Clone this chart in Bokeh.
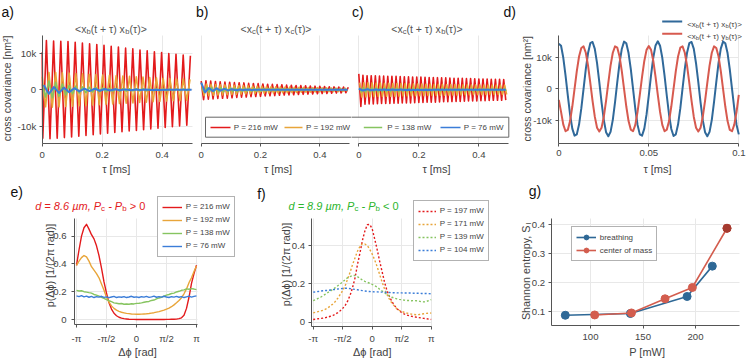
import numpy as np
from math import pi, cos, sin
from bokeh.plotting import figure
from bokeh.layouts import row, column
from bokeh.models import (Label, BoxAnnotation, Legend, LegendItem, FixedTicker,
                          CustomJSTickFormatter, Range1d)
from bokeh.embed import file_html
from bokeh.resources import INLINE

FONT = "Liberation Sans"

# ------------------------------------------------------------------ data
# panels a-c: cross covariances (1e3 nm^2), successive extrema of the oscillation
a_red = [10.4, -13.4, 13.6, -13.5, 13.5, -13.4, 13.4, -13.2, 13.3, -13.0, 13.1, -12.8, 12.9,
         -12.6, 12.7, -12.4, 12.5, -12.2, 12.3, -12.0, 12.0, -11.8, 11.8, -11.6, 11.5, -11.4,
         11.3, -11.2, 11.0, -11.0, 10.8, -10.8, 10.5, -10.6, 10.3, -10.4, 10.0, -10.2, 9.8,
         -10.0, 9.6, -9.8, 9.4]
a_orange = [3.6, -4.7, 4.8, -4.8, 4.8, -4.7, 4.7, -4.6, 4.6, -4.5, 4.5, -4.4, 4.4, -4.3, 4.3,
            -4.2, 4.2, -4.1, 4.1, -4.0, 4.0, -3.9, 3.9, -3.8, 3.8, -3.7, 3.7, -3.6, 3.6, -3.5,
            3.5, -3.4, 3.4, -3.3, 3.3, -3.2, 3.2, -3.1, 3.1, -3.0, 3.0, -3.0, 3.0, -2.9, 2.9]
a_green = [1.5, -2.0, 2.4, -2.2, 2.0, -1.8, 1.6, -1.4, 1.2, -1.1, 1.0, -0.9, 0.8, -0.8, 0.7,
           -0.6, 0.6, -0.5, 0.5, -0.5, 0.4, -0.4, 0.4, -0.4, 0.35, -0.35, 0.3, -0.3, 0.3, -0.3,
           0.3, -0.3, 0.25, -0.25, 0.25, -0.25, 0.25, -0.25, 0.2, -0.2, 0.2, -0.2, 0.2, -0.2, 0.2]
a_blue = [1.3, -1.1, 0.75, -0.85, 0.6, -0.65, 0.45, -0.45, 0.35, -0.35, 0.3, -0.25, 0.22, -0.2,
          0.16, -0.14, 0.12, -0.1, 0.08, -0.07, 0.06, -0.05, 0.04, -0.03, 0.03, -0.02, 0.02,
          -0.01, 0.01, 0.0]
a_half = {"red": 0.012, "orange": 0.0112, "green": 0.0112, "blue": 0.017}

b_red = [2.4, -2.7, 2.5, -2.6, 2.4, -2.5, 2.3, -2.4, 2.2, -2.35, 2.15, -2.3, 2.1, -2.2, 2.0,
         -2.1, 1.95, -2.05, 1.9, -2.0, 1.8, -1.9, 1.75, -1.85, 1.7, -1.8, 1.6, -1.7, 1.55, -1.65,
         1.5, -1.6, 1.45, -1.5, 1.4, -1.45, 1.3, -1.4, 1.25, -1.35, 1.2, -1.3, 1.15, -1.25, 1.1,
         -1.2, 1.05, -1.15, 1.0, -1.1, 0.95, -1.05, 0.9, -1.0, 0.85, -0.95, 0.8, -0.9, 0.78,
         -0.85, 0.75, -0.8, 0.7]
b_orange = [1.4, -1.6, 1.6, -1.6, 1.5, -1.5, 1.45, -1.45, 1.4, -1.4, 1.35, -1.35, 1.3, -1.3,
            1.25, -1.25, 1.2, -1.2, 1.15, -1.15, 1.1, -1.1, 1.05, -1.05, 1.0, -1.0, 0.95, -0.95,
            0.9, -0.9, 0.88, -0.88, 0.85, -0.85, 0.8, -0.8, 0.78, -0.78, 0.75, -0.75, 0.7, -0.7,
            0.68, -0.68, 0.65, -0.65, 0.62, -0.62, 0.6, -0.6, 0.58, -0.58, 0.55, -0.55, 0.52,
            -0.52, 0.5, -0.5, 0.48, -0.48, 0.45, -0.45, 0.42, -0.42]
b_green = [0.6, -0.7, 0.7, -0.65, 0.65, -0.6, 0.6, -0.58, 0.58, -0.55, 0.55, -0.52, 0.52, -0.5,
           0.5, -0.48, 0.48, -0.45, 0.45, -0.43, 0.43, -0.4, 0.4, -0.38, 0.38, -0.36, 0.36,
           -0.35, 0.35, -0.33, 0.33, -0.32, 0.32, -0.3, 0.3, -0.29, 0.29, -0.28, 0.28, -0.27,
           0.27, -0.26, 0.26, -0.25, 0.25, -0.24, 0.24, -0.23, 0.23, -0.22, 0.22, -0.22, 0.22,
           -0.21, 0.21, -0.21, 0.21, -0.2, 0.2, -0.2, 0.2, -0.2]
b_blue = [2.0, -0.7, 0.5, -0.35, 0.4, -0.25, 0.25, -0.15, 0.15, -0.1, 0.1, -0.06, 0.05, -0.04,
          0.03, -0.02, 0.02, -0.01, 0.01, 0.0, 0.0, 0.0, 0.0, 0.0, 0.0, 0.0, 0.0, 0.0, 0.0, 0.0,
          0.0, 0.0, 0.0, 0.0, 0.0, 0.0, 0.0, 0.0, 0.0]
b_half = {"red": 0.008, "orange": 0.0078, "green": 0.008, "blue": 0.013}

c_red = [4.4, -4.6, 4.0, -4.0, 3.9, -3.9, 3.9, -3.9, 3.85, -3.85, 3.8, -3.8, 3.8, -3.8, 3.75,
         -3.75, 3.7, -3.7, 3.7, -3.7, 3.65, -3.65, 3.6, -3.6, 3.6, -3.6, 3.55, -3.55, 3.5, -3.5,
         3.5, -3.5, 3.45, -3.45, 3.4, -3.4, 3.4, -3.4, 3.35, -3.35, 3.3, -3.3, 3.3, -3.3, 3.25,
         -3.25, 3.2, -3.2, 3.2, -3.2, 3.15, -3.15, 3.1, -3.1, 3.1, -3.1, 3.05, -3.05, 3.0, -3.0,
         3.0, -3.0, 2.95, -2.95, 2.9, -2.9, 2.9, -2.9, 2.9, -2.9, 2.85, -2.85]
c_orange = [2.0, -2.0, 1.95, -1.95, 1.9, -1.9, 1.9, -1.9, 1.85, -1.85, 1.85, -1.85, 1.8, -1.8,
            1.8, -1.8, 1.75, -1.75, 1.75, -1.75, 1.7, -1.7, 1.7, -1.7, 1.65, -1.65, 1.65, -1.65,
            1.6, -1.6, 1.6, -1.6, 1.55, -1.55, 1.55, -1.55, 1.5, -1.5, 1.5, -1.5, 1.5, -1.5,
            1.45, -1.45, 1.45, -1.45, 1.45, -1.45, 1.4, -1.4, 1.4, -1.4, 1.4, -1.4, 1.35, -1.35,
            1.35, -1.35, 1.35, -1.35, 1.3, -1.3, 1.3, -1.3, 1.3, -1.3, 1.3, -1.3, 1.3, -1.3,
            1.3, -1.3]
c_green = [0.6, -0.6, 0.55, -0.55, 0.5, -0.5, 0.5, -0.5, 0.48, -0.48, 0.46, -0.46, 0.45, -0.45,
           0.44, -0.44, 0.42, -0.42, 0.41, -0.41, 0.4, -0.4, 0.39, -0.39, 0.38, -0.38, 0.37,
           -0.37, 0.36, -0.36, 0.35, -0.35, 0.35, -0.35, 0.34, -0.34, 0.33, -0.33, 0.33, -0.33,
           0.32, -0.32, 0.32, -0.32, 0.31, -0.31, 0.31, -0.31, 0.3, -0.3, 0.3, -0.3, 0.3, -0.3,
           0.29, -0.29, 0.29, -0.29, 0.28, -0.28, 0.28, -0.28, 0.28, -0.28, 0.27, -0.27, 0.27,
           -0.27, 0.27, -0.27, 0.26, -0.26]
c_blue = [0.3, -0.2, 0.15, -0.12, 0.1, -0.08, 0.08, -0.06, 0.06, -0.05, 0.05, -0.04, 0.04,
          -0.04, 0.03, -0.03, 0.03, -0.03, 0.03, -0.02, 0.02, -0.02, 0.02, -0.02, 0.02, -0.02,
          0.02, -0.02, 0.01, -0.01, 0.01, -0.01, 0.01, -0.01, 0.01, -0.01]
c_half = {"red": 0.0069, "orange": 0.0069, "green": 0.0069, "blue": 0.014}
abc_powers = [216, 192, 138, 76]

# panel d (1e3 nm^2), tau from 0 to 0.1 ms
d_tau = np.linspace(0.0, 0.1, 81)
d_xx = [14.2, 13.6, 9.8, 4.2, -2.1, -8.1, -12.6, -14.8, -14.4, -11.3, -6.2, 0.0, 6.2, 11.3,
        14.4, 14.8, 12.6, 8.1, 2.1, -4.3, -9.8, -13.7, -15.0, -13.6, -9.8, -4.2, 2.2, 8.1, 12.6,
        14.9, 14.4, 11.3, 6.2, 0.0, -6.3, -11.4, -14.4, -14.8, -12.6, -8.1, -2.1, 4.3, 9.9,
        13.7, 15.0, 13.6, 9.8, 4.2, -2.2, -8.2, -12.7, -14.9, -14.4, -11.3, -6.2, 0.1, 6.3,
        11.4, 14.4, 14.8, 12.6, 8.0, 2.1, -4.3, -9.9, -13.7, -15.0, -13.6, -9.8, -4.1, 2.2, 8.2,
        12.7, 14.9, 14.4, 11.3, 6.1, -0.1, -6.3, -11.4, -14.4]
d_xy = [-3.5, -7.3, -11.3, -13.4, -13.0, -10.2, -5.6, 0.0, 5.6, 10.2, 12.9, 13.4, 11.4, 7.3,
        1.9, -3.8, -8.8, -12.3, -13.5, -12.3, -8.9, -3.8, 1.9, 7.3, 11.4, 13.4, 13.0, 10.2, 5.6,
        0.0, -5.6, -10.2, -12.9, -13.4, -11.4, -7.3, -1.9, 3.8, 8.8, 12.3, 13.5, 12.3, 8.8, 3.8,
        -1.9, -7.3, -11.4, -13.4, -12.9, -10.2, -5.6, 0.0, 5.6, 10.2, 13.0, 13.4, 11.4, 7.3, 1.9,
        -3.8, -8.9, -12.3, -13.5, -12.3, -8.8, -3.8, 1.9, 7.3, 11.4, 13.4, 12.9, 10.2, 5.6, 0.0,
        -5.6, -10.2, -13.0, -13.4, -11.3, -7.3, -1.9]

# panels e, f: phase distributions
phase = np.linspace(-pi, pi, 49)
e_powers = [216, 192, 138, 76]
e_red = [0.39, 0.50, 0.60, 0.66, 0.685, 0.65, 0.61, 0.58, 0.53, 0.46, 0.37, 0.27, 0.19, 0.12,
         0.075, 0.045, 0.027, 0.016, 0.010, 0.006, 0.004, 0.002, 0.001, 0.001, 0.0, 0.0, 0.0,
         0.0, 0.0, 0.0, 0.0, 0.0, 0.0, 0.0, 0.0, 0.0, 0.001, 0.001, 0.002, 0.002, 0.003, 0.006,
         0.012, 0.03, 0.08, 0.16, 0.26, 0.33, 0.39]
e_orange = [0.39, 0.42, 0.445, 0.46, 0.45, 0.42, 0.38, 0.355, 0.33, 0.30, 0.255, 0.21, 0.16,
            0.125, 0.098, 0.08, 0.067, 0.058, 0.052, 0.048, 0.044, 0.042, 0.04, 0.039, 0.038,
            0.038, 0.039, 0.04, 0.041, 0.043, 0.046, 0.049, 0.053, 0.057, 0.062, 0.067, 0.074,
            0.082, 0.092, 0.105, 0.12, 0.137, 0.157, 0.185, 0.22, 0.265, 0.30, 0.345, 0.385]
e_green = [0.21, 0.205, 0.207, 0.20, 0.197, 0.193, 0.19, 0.18, 0.175, 0.168, 0.16, 0.152, 0.143,
           0.135, 0.128, 0.12, 0.117, 0.113, 0.115, 0.11, 0.112, 0.11, 0.113, 0.112, 0.116,
           0.117, 0.12, 0.124, 0.128, 0.13, 0.137, 0.14, 0.148, 0.155, 0.16, 0.168, 0.175, 0.18,
           0.187, 0.19, 0.198, 0.203, 0.21, 0.213, 0.22, 0.218, 0.222, 0.219, 0.215]
e_blue = [0.170, 0.165, 0.172, 0.163, 0.168, 0.160, 0.166, 0.158, 0.164, 0.161, 0.167, 0.159,
          0.163, 0.157, 0.162, 0.166, 0.158, 0.163, 0.160, 0.165, 0.158, 0.162, 0.167, 0.160,
          0.163, 0.158, 0.164, 0.161, 0.166, 0.159, 0.163, 0.168, 0.160, 0.165, 0.161, 0.167,
          0.162, 0.158, 0.164, 0.161, 0.166, 0.160, 0.165, 0.158, 0.163, 0.168, 0.161, 0.166,
          0.170]
f_powers = [197, 171, 139, 104]
f_red = [0.014, 0.016, 0.018, 0.020, 0.021, 0.024, 0.027, 0.031, 0.035, 0.042, 0.050, 0.060,
         0.072, 0.087, 0.110, 0.140, 0.180, 0.230, 0.300, 0.360, 0.425, 0.475, 0.508, 0.510,
         0.487, 0.435, 0.380, 0.320, 0.265, 0.210, 0.165, 0.135, 0.108, 0.088, 0.072, 0.060,
         0.050, 0.043, 0.038, 0.034, 0.031, 0.029, 0.026, 0.024, 0.022, 0.020, 0.018, 0.016,
         0.014]
f_orange = [0.049, 0.052, 0.055, 0.058, 0.062, 0.068, 0.075, 0.085, 0.095, 0.108, 0.125, 0.145,
            0.165, 0.19, 0.225, 0.26, 0.30, 0.335, 0.37, 0.395, 0.41, 0.408, 0.40, 0.38, 0.355,
            0.325, 0.29, 0.25, 0.21, 0.175, 0.145, 0.12, 0.10, 0.085, 0.07, 0.062, 0.056, 0.052,
            0.048, 0.045, 0.042, 0.04, 0.039, 0.04, 0.042, 0.044, 0.046, 0.047, 0.048]
f_green = [0.113, 0.118, 0.124, 0.13, 0.138, 0.146, 0.155, 0.163, 0.172, 0.18, 0.19, 0.2, 0.21,
           0.222, 0.232, 0.238, 0.243, 0.244, 0.238, 0.228, 0.22, 0.213, 0.208, 0.203, 0.197,
           0.19, 0.184, 0.172, 0.163, 0.154, 0.145, 0.137, 0.13, 0.126, 0.122, 0.119, 0.117,
           0.115, 0.113, 0.113, 0.112, 0.113, 0.112, 0.11, 0.107, 0.106, 0.108, 0.113, 0.118]
f_blue = [0.157, 0.158, 0.16, 0.162, 0.164, 0.165, 0.166, 0.168, 0.17, 0.171, 0.173, 0.175, 0.176,
          0.177, 0.177, 0.175, 0.173, 0.171, 0.169, 0.167, 0.165, 0.163, 0.161, 0.16, 0.159,
          0.158, 0.158, 0.157, 0.157, 0.156, 0.155, 0.155, 0.154, 0.154, 0.153, 0.153, 0.153,
          0.152, 0.152, 0.152, 0.152, 0.151, 0.151, 0.151, 0.15, 0.15, 0.15, 0.149, 0.148]

# panel g: Shannon entropy
breath_P = [76, 138, 192, 216]
breath_S = [0.087, 0.093, 0.152, 0.257]
com_P = [104, 139, 171, 197, 230]
com_S = [0.088, 0.095, 0.144, 0.183, 0.388]

# ------------------------------------------------------------------ styles
C4 = ["#e31a1c", "#e8a53a", "#86c460", "#3b7dd8"]
D_BLU, D_RED = "#30699a", "#d75a4f"
G_BLU, G_RED, G_RED_DARK = "#2e6896", "#d35d4e", "#a53a2f"
TXT = "#444444"
LETTER = "#111111"

AW = {' ': 278, '!': 278, '(': 333, ')': 333, '+': 584, ',': 278, '-': 333, '.': 278, '/': 278,
      '<': 584, '=': 584, '>': 584, '[': 278, ']': 278, 'I': 278, 'P': 667, 'S': 667, 'W': 944,
      'a': 556, 'b': 556, 'c': 500, 'd': 556, 'e': 556, 'f': 278, 'g': 556, 'h': 556, 'i': 222,
      'k': 500, 'l': 222, 'm': 833, 'n': 556, 'o': 556, 'p': 556, 'r': 333, 's': 500, 't': 278,
      'u': 556, 'v': 500, 'w': 722, 'x': 500, 'y': 500, 'τ': 440, 'µ': 576, 'Δ': 668, 'ϕ': 600,
      'π': 560, '²': 333}
CANVAS = {}


def tw(text, size):
    return sum(AW.get(ch, 556) for ch in text) * size / 1000.0


def lab(p, X, Y, text, size, color=TXT, align="left", baseline="middle", angle=0.0,
        style="normal"):
    cx, cy, cw, ch = CANVAS[id(p)]
    p.add_layout(Label(x=X - cx, y=cy + ch - Y, x_units="screen", y_units="screen", text=text,
                       text_font=FONT, text_font_size=f"{size:.2f}px", text_color=color,
                       text_align=align, text_baseline=baseline, angle=angle,
                       text_font_style=style))


def rich(p, X, Y, pieces, size, color, anchor="center", angle=0.0):
    sizes = [size * 0.72 if sub else size for _, sub, _ in pieces]
    widths = [tw(t, s) for (t, _, _), s in zip(pieces, sizes)]
    pos = -sum(widths) / 2 if anchor == "center" else 0.0
    ca, sa = cos(angle), sin(angle)
    for (t, sub, st), s, w in zip(pieces, sizes, widths):
        d = 0.22 * size if sub else 0.0
        lead = len(t) - len(t.lstrip(" "))
        q = pos + tw(" " * lead, s)
        lab(p, X + q * ca + d * sa, Y - q * sa + d * ca, t.strip(" "), s, color, "left",
            "alphabetic", angle, st)
        pos += w


def box(p, L, T, R, B, fill, line=None):
    cx, cy, cw, ch = CANVAS[id(p)]
    p.add_layout(BoxAnnotation(left=L - cx, right=R - cx, top=cy + ch - T, bottom=cy + ch - B,
                               left_units="screen", right_units="screen",
                               top_units="screen", bottom_units="screen",
                               fill_color=fill, fill_alpha=1.0,
                               line_color=line if line else fill,
                               line_alpha=1.0 if line else 0.0, line_width=1))


FMT_NUM = "return String(Math.round(tick*1000)/1000);"
FMT_K = "return tick == 0 ? '0' : Math.round(tick) + 'k';"
FMT_PI = ("const k = Math.round(tick/(Math.PI/2));"
          "return {'-2':'-π','-1':'-π/2','0':'0','1':'π/2','2':'π'}[String(k)];")


def make(canvas, xcal, ycal, vf, xticks, xfmt, yticks=None, yfmt=None, xstand=5, ystand=5):
    """canvas: (left, top, width, height) in page px; xcal/ycal: (pixel, value, px per unit);
    vf: visible plotting box (L, T, R, B) in page px, where the axes are drawn."""
    cx, cy, cw, ch = canvas
    xr = (xcal[1] + (cx - xcal[0]) / xcal[2], xcal[1] + (cx + cw - xcal[0]) / xcal[2])
    yr = (ycal[1] - (cy + ch - ycal[0]) / ycal[2], ycal[1] + (ycal[0] - cy) / ycal[2])
    L, T, R, B = vf
    xl = xcal[1] + (L - xcal[0]) / xcal[2]
    xh = xcal[1] + (R - xcal[0]) / xcal[2]
    yb = ycal[1] - (B - ycal[0]) / ycal[2]
    yt = ycal[1] + (ycal[0] - T) / ycal[2]
    p = figure(width=cw, height=ch, x_range=Range1d(*xr), y_range=Range1d(*yr),
               output_backend="svg", toolbar_location=None, min_border=0, title=None,
               y_axis_location="left" if yticks is not None else None)
    CANVAS[id(p)] = canvas
    p.outline_line_color = None
    p.grid.grid_line_color = "#e8e8e8"
    p.grid.grid_line_width = 1
    for ax in p.axis:
        ax.axis_line_color = "#555555"
        ax.major_tick_line_color = "#555555"
        ax.major_tick_out = 3
        ax.major_tick_in = 0
        ax.minor_tick_line_color = None
        ax.major_label_text_font = FONT
        ax.major_label_text_font_size = "9.6px"
        ax.major_label_text_color = TXT
    p.xaxis.ticker = FixedTicker(ticks=xticks)
    p.xaxis.formatter = CustomJSTickFormatter(code=xfmt)
    p.xaxis.major_label_standoff = xstand
    p.xaxis.fixed_location = yb
    p.xaxis.bounds = (xl, xh)
    p.xgrid.cross_bounds = (yb, yt)
    if yticks is not None:
        p.yaxis.ticker = FixedTicker(ticks=yticks)
        p.yaxis.formatter = CustomJSTickFormatter(code=yfmt)
        p.yaxis.major_label_standoff = ystand
        p.yaxis.fixed_location = xl
        p.yaxis.bounds = (yb, yt)
        p.ygrid.cross_bounds = (xl, xh)
    else:
        p.ygrid.visible = False
    return p


def zig(p, series, halfs, firsts):
    for vals, col, key in zip(series, C4, ["red", "orange", "green", "blue"]):
        start, lead = firsts[key]
        if lead is None:
            t = start + halfs[key] * np.arange(len(vals))
        else:
            t = np.r_[0.0, lead + halfs[key] * np.arange(len(vals) - 1)]
        p.line(t, vals, line_color=col, line_width=2.0 if key == "blue" else 1.6,
               line_join="round")


def leg(p, items, L, T, n, gw=20):
    cx, cy, cw, ch = CANVAS[id(p)]
    height = 8 + 12 * n + (n - 1)
    p.add_layout(Legend(items=items, location=(L - cx, cy + ch - (T + height)),
                        orientation="vertical", glyph_width=gw, glyph_height=12,
                        label_height=12, label_standoff=4, spacing=1, padding=4, margin=0,
                        border_line_color="#666666", border_line_width=1,
                        background_fill_color="white", background_fill_alpha=1.0,
                        label_text_font=FONT, label_text_font_size="8px",
                        label_text_color=TXT))


XB = lambda sub1, mid, sub2: [("<x", 0, "normal"), (sub1, 1, "normal"), (mid, 0, "normal"),
                              (sub2, 1, "normal"), ("(τ)>", 0, "normal")]

YCAL_ABC = (89.3, 0.0, 3.62)

# ------------------------------------------------------------------ panel a
pa = make((0, 0, 195, 175), (41.7, 0.0, 300.0), YCAL_ABC, (41.7, 35, 191.7, 143.3),
          [0, 0.2, 0.4], FMT_NUM, [-10, 0, 10], FMT_K, ystand=3)
zig(pa, [a_red, a_orange, a_green, a_blue], a_half,
    {"red": (0.0, 0.002), "orange": (0.0, None), "green": (0.0, None), "blue": (0.005, None)})
lab(pa, 1, 11.7, "a)", 14, LETTER)
rich(pa, 110.7, 28.3, XB("b", "(t + τ) x", "b"), 10.5, "#555555")
lab(pa, 115.8, 168.5, "τ [ms]", 11, TXT, "center")
lab(pa, 6.5, 88, "cross covariance [nm²]", 10.5, TXT, "center", "middle", pi / 2)

# ------------------------------------------------------------------ panel b
pb = make((195, 0, 156, 175), (200.7, 0.0, 296.5), YCAL_ABC, (200.7, 35, 349.0, 143.3),
          [0, 0.2, 0.4], FMT_NUM)
zig(pb, [b_red, b_orange, b_green, b_blue], b_half,
    {"red": (0.0, None), "orange": (0.002, None), "green": (0.003, None), "blue": (0.0, None)})
lab(pb, 195.5, 11.7, "b)", 14, LETTER)
rich(pb, 275.8, 28.3, XB("c", "(t + τ) x", "c"), 10.5, "#555555")
lab(pb, 277.5, 168.5, "τ [ms]", 11, TXT, "center")
box(pb, 205, 116.7, 600, 136.7, "white", "#666666")
box(pb, 210, 126.2, 230, 127.8, C4[0])
box(pb, 284, 126.2, 302, 127.8, C4[1])
lab(pb, 233.3, 127, f"P = {abc_powers[0]} mW", 8)
lab(pb, 305.5, 127, f"P = {abc_powers[1]} mW", 8)

# ------------------------------------------------------------------ panel c
pc = make((351, 0, 166, 175), (358.3, 0.0, 300.0), YCAL_ABC, (358.3, 35, 508.3, 143.3),
          [0, 0.2, 0.4], FMT_NUM)
zig(pc, [c_red, c_orange, c_green, c_blue], c_half,
    {"red": (0.0, None), "orange": (0.003, None), "green": (0.002, None), "blue": (0.0, None)})
lab(pc, 351.5, 11.7, "c)", 14, LETTER)
lab(pc, 503, 11.7, "d)", 14, LETTER)
rich(pc, 426.7, 28.3, XB("c", "(t + τ) x", "b"), 10.5, "#555555")
lab(pc, 436, 168.5, "τ [ms]", 11, TXT, "center")
box(pc, 100, 116.7, 508.3, 136.7, "white", "#666666")
box(pc, 363.3, 126.2, 381.7, 127.8, C4[2])
box(pc, 440, 126.2, 460, 127.8, C4[3])
lab(pc, 386.7, 127, f"P = {abc_powers[2]} mW", 8)
lab(pc, 463.3, 127, f"P = {abc_powers[3]} mW", 8)

# ------------------------------------------------------------------ panel d
pd = make((517, 0, 230, 175), (558.3, 0.0, 1800.0), (88.3, 0.0, 3.165),
          (558.3, 35, 738.4, 142.7), [0, 0.05, 0.1], FMT_NUM, [-10, 0, 10], FMT_K,
          xstand=4, ystand=4)
pd.line(d_tau, d_xx, line_color=D_BLU, line_width=2, line_join="round")
pd.line(d_tau, d_xy, line_color=D_RED, line_width=2, line_join="round")
box(pd, 661.7, 20, 681.7, 22, D_BLU)
box(pd, 661.7, 32.3, 681.7, 34.3, D_RED)
rich(pd, 686.7, 23.8, XB("b", "(t + τ) x", "b"), 8, TXT, "left")
rich(pd, 686.7, 36.1, XB("b", "(t + τ) y", "b"), 8, TXT, "left")
lab(pd, 657, 168.5, "τ [ms]", 11, TXT, "center")
lab(pd, 526.7, 88.3, "cross covariance [nm²]", 10.5, TXT, "center", "middle", pi / 2)

# ------------------------------------------------------------------ panel e
pe = make((0, 175, 250, 184), (136.0, 0.0, 60.0 / pi), (319.0, 0.0, 139.0),
          (74, 218.3, 197.3, 324.3), [-pi, -pi / 2, 0, pi / 2, pi], FMT_PI,
          [0, 0.2, 0.4, 0.6], FMT_NUM, xstand=5, ystand=5)
items = []
for vals, col, pw in zip([e_red, e_orange, e_green, e_blue], C4, e_powers):
    r = pe.line(phase, vals, line_color=col, line_width=1.4, line_join="round")
    items.append(LegendItem(label=f"P = {pw} mW", renderers=[r]))
leg(pe, items, 156.7, 197.7, 4)
lab(pe, 10, 191.7, "e)", 14, LETTER)
rich(pe, 89.7, 205.2, [("d = 8.6 µm, P", 0, "italic"), ("c", 1, "normal"),
                       (" - P", 0, "italic"), ("b", 1, "normal"), (" > 0", 0, "normal")],
     11, "#e31a1c")
lab(pe, 137, 351.5, "Δϕ [rad]", 11, TXT, "center")
lab(pe, 49.3, 265, "p(Δϕ) [1/(2π rad)]", 10.8, TXT, "center", "middle", pi / 2)

# ------------------------------------------------------------------ panel f
pf = make((250, 175, 240, 184), (371.7, 0.0, 59.0 / pi), (321.7, 0.0, 191.7),
          (310.7, 218.3, 431.3, 325.7), [-pi, -pi / 2, 0, pi / 2, pi], FMT_PI,
          [0, 0.2, 0.4], FMT_NUM, xstand=4, ystand=3)
items = []
for vals, col, pw in zip([f_red, f_orange, f_green, f_blue], C4, f_powers):
    r = pf.line(phase, vals, line_color=col, line_width=1.4, line_dash="2 2")
    items.append(LegendItem(label=f"P = {pw} mW", renderers=[r]))
leg(pf, items, 412.7, 201.7, 4, gw=18)
lab(pf, 256.7, 193.3, "f)", 14, LETTER)
rich(pf, 343, 205.2, [("d = 8.9 µm, P", 0, "italic"), ("c", 1, "normal"),
                      (" - P", 0, "italic"), ("b", 1, "normal"), (" < 0", 0, "normal")],
     11, "#2db52d")
lab(pf, 371.7, 351.5, "Δϕ [rad]", 11, TXT, "center")
lab(pf, 285, 264, "p(Δϕ) [1/(2π rad)]", 10.8, TXT, "center", "middle", pi / 2)

# ------------------------------------------------------------------ panel g
pg = make((490, 175, 257, 184), (590.0, 100.0, 1.05), (311.0, 0.1, 289.0),
          (550.7, 218.3, 739.3, 325.0), [100, 150, 200], FMT_NUM, [0.1, 0.2, 0.3, 0.4],
          FMT_NUM, xstand=5, ystand=3)
rb1 = pg.line(breath_P, breath_S, line_color=G_BLU, line_width=1.6)
rb2 = pg.scatter(breath_P, breath_S, size=8, fill_color=G_BLU, line_color=G_BLU)
rc1 = pg.line(com_P, com_S, line_color=G_RED, line_width=1.6)
rc2 = pg.scatter(com_P, com_S, size=8, fill_color=G_RED, line_color=G_RED)
pg.scatter(com_P[-1:], com_S[-1:], size=8, fill_color=G_RED_DARK, line_color=G_RED_DARK)
leg(pg, [LegendItem(label="breathing", renderers=[rb1, rb2]),
         LegendItem(label="center of mass", renderers=[rc1, rc2])], 570.7, 228.3, 2)
lab(pg, 528.3, 190, "g)", 14, LETTER)
lab(pg, 646.7, 351.5, "P [mW]", 11, TXT, "center")
rich(pg, 525.2, 270.8, [("Shannon entropy, S", 0, "normal"), ("I", 1, "normal")], 10.8, TXT,
     "center", pi / 2)

layout = column(row(pa, pb, pc, pd), row(pe, pf, pg))
open("out.html", "w").write(file_html(layout, INLINE))
